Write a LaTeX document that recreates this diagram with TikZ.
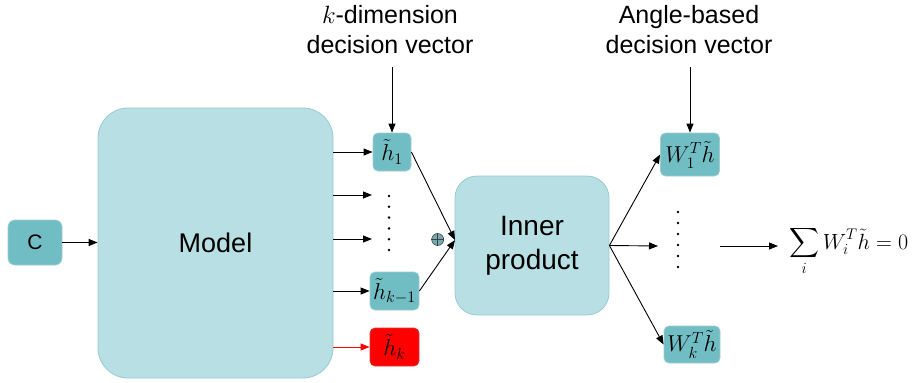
\RequirePackage{fix-cm}
\documentclass[tikz,border=0pt]{standalone}
\usepackage{exscale}
\usepackage[no-math]{fontspec}
\setmainfont{Liberation Sans}
\usetikzlibrary{arrows.meta}
\definecolor{dk}{RGB}{112,190,196}
\definecolor{dkb}{RGB}{160,204,209}
\definecolor{lt}{RGB}{184,223,227}
\definecolor{ltb}{RGB}{150,203,208}
\definecolor{rdb}{RGB}{205,60,60}
\tikzset{
  box/.style={draw=dkb, fill=dk, rounded corners=5pt, line width=0.8pt, inner sep=0pt,
              font=\fontsize{23}{26}\selectfont},
  bigbox/.style={draw=ltb, fill=lt, line width=0.8pt, inner sep=0pt},
  arr/.style={-{Triangle[length=9pt,width=7pt]}, line width=0.9pt},
  lbl/.style={font=\fontsize{25}{30}\selectfont, align=center, inner sep=0pt},
  dotmark/.style={fill=black},
}
\begin{document}
\begin{tikzpicture}[x=1pt,y=-1pt]
\useasboundingbox (0,0) rectangle (914,383);
% input
\node[box, rounded corners=7pt, minimum width=54, minimum height=45,
      font=\fontsize{21}{25}\selectfont] (c) at (35,242.5) {C};
% model
\node[bigbox, rounded corners=30pt, minimum width=235, minimum height=270,
      font=\fontsize{27}{32}\selectfont] (model) at (215.5,243) {Model};
\draw[arr] (c.east) -- (c.east -| model.west);
% k-dimension vector
\node[box, minimum width=38, minimum height=38] (h1) at (392,152) {$\tilde h_1$};
\node[box, minimum width=49, minimum height=38] (hk1) at (394.5,291) {$\tilde h_{k-1}$};
\node[box, fill=red, draw=rdb, minimum width=49, minimum height=38] (hk) at (394.5,347) {$\tilde h_k$};
\coordinate (r2) at (372,195);
\coordinate (r3) at (372,239);
\draw[arr] (model.east |- h1) -- (h1.west);
\draw[arr] (model.east |- r2) -- (r2);
\draw[arr] (model.east |- r3) -- (r3);
\draw[arr] (model.east |- hk1) -- (hk1.west);
\draw[arr, red] (model.east |- hk) -- (hk.west);
\foreach \i in {0,...,5} \fill[dotmark] (389,196+10.8*\i) circle (1.4);
% label 1
\node[lbl] (lab1) at (390,29.5) {$k$-dimension\\decision vector};
\coordinate (t1) at (392,67);
\draw[arr] (t1) -- (h1.north);
% inner product
\node[bigbox, rounded corners=22pt, minimum width=154, minimum height=139,
      font=\fontsize{28}{34}\selectfont, align=center] (inner) at (532,245.5) {Inner\\product};
\coordinate (inpt) at (455,240);
\node[circle, draw=black!75, fill=dk!70!gray, line width=0.6pt, minimum size=12, inner sep=0pt] (op) at (437.7,239.5) {};
\draw[black!75, line width=0.6pt] (op.north) -- (op.south) (op.west) -- (op.east);
\draw[arr] (h1.east) -- (inpt);
\draw[arr] (hk1.east) -- (inpt);
% angle-based vector
\node[box, minimum width=59, minimum height=43] (w1) at (690,154.5) {$W_1^T\tilde h$};
\node[box, minimum width=56, minimum height=37] (wk) at (692,344.5) {$W_k^T\tilde h$};
\coordinate (m1) at (658,246);
\draw[arr] (inner.east) -- (w1.west);
\draw[arr] (inner.east) -- (m1);
\draw[arr] (inner.east) -- (wk.west);
\foreach \i in {0,...,5} \fill[dotmark] (678,212+11*\i) circle (1.4);
% label 2
\node[lbl] (lab2) at (689,29.5) {Angle-based\\decision vector};
\coordinate (t2) at (690,67);
\draw[arr] (t2) -- (w1.north);
% sum
\coordinate (s0) at (720,246);
\coordinate (s1) at (778,246);
\draw[arr] (s0) -- (s1);
\node[anchor=base west, inner sep=0pt, font=\fontsize{22}{26}\selectfont] (sum) at (789,249)
  {$\displaystyle\sum_i W_i^T\tilde h = 0$};
\end{tikzpicture}
\end{document}
